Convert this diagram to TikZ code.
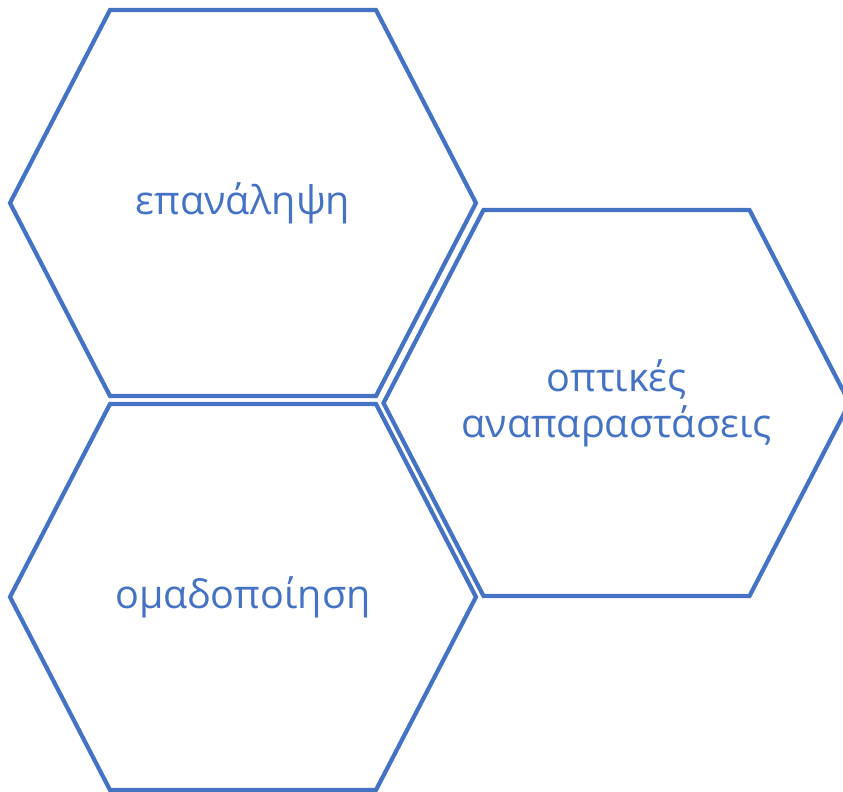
\documentclass[tikz,border=0pt]{standalone}
\usepackage{fontspec}
\setmainfont{Open Sans}
\usepackage{tikz}
\usetikzlibrary{calc}
\definecolor{hexBlue}{HTML}{4472C4}

\begin{document}
\begin{tikzpicture}[
    x=0.02cm, y=-0.02cm,
    label/.style={text=hexBlue, font=\fontsize{22.5}{26}\selectfont,
                  align=center, inner sep=0pt},
    hexline/.style={draw=hexBlue, line width=2.4pt, line join=miter},
]
\useasboundingbox (0,0) rectangle (843,792);
\clip (0,0) rectangle (843,792);

% cell texts
\node[label] (rep) at (243,203) {επανάληψη};
\node[label] (vis) at (616.5,403) {οπτικές\\αναπαραστάσεις};
\node[label] (grp) at (243,597) {ομαδοποίηση};

% hexagon outlines round each cell
\foreach \c in {rep, vis, grp}
  \draw[hexline] ($(\c)+(-233,0)$) -- ($(\c)+(-133,-193)$)
    -- ($(\c)+(133,-193)$) -- ($(\c)+(233,0)$)
    -- ($(\c)+(133,193)$) -- ($(\c)+(-133,193)$) -- cycle;
\end{tikzpicture}
\end{document}
